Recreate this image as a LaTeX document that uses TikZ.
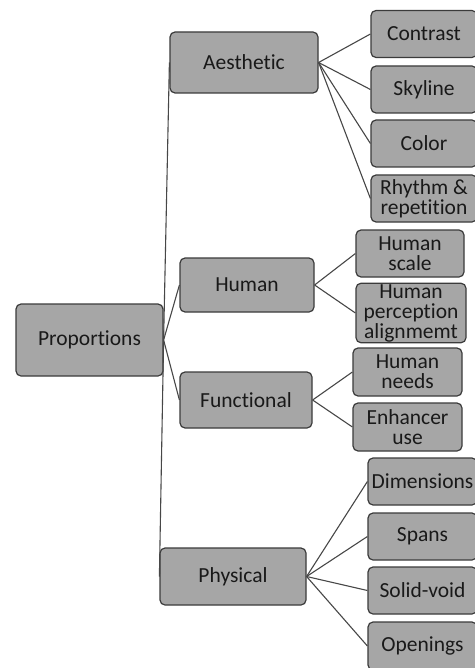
\documentclass[tikz,border=0pt]{standalone}
\usepackage{fontspec}
\setmainfont{Carlito}[Ligatures=NoCommon]
\begin{document}
\begin{tikzpicture}[x=1pt,y=-1pt,
	box/.style={draw=black!77,fill=black!35,text=black!90,line width=1.2pt,rounded corners=5pt,inner sep=1pt,align=center,font=\fontsize{21.5}{20}\selectfont},
	leaf/.style={box,minimum width=108pt,minimum height=47pt},
	link/.style={draw=black!72,line width=1.1pt}]
	\useasboundingbox (0,0) rectangle (474,668);
	% root and branches
	\node[box,minimum width=147pt,minimum height=72pt] (prop) at (89.5,340) {Proportions};
	\node[box,minimum width=148pt,minimum height=61pt] (aes) at (244,62.5) {Aesthetic};
	\node[box,minimum width=134pt,minimum height=54pt] (hum) at (247,285) {Human};
	\node[box,minimum width=132pt,minimum height=56pt] (fun) at (246,400) {Functional};
	\node[box,minimum width=146pt,minimum height=57pt] (phy) at (233,576.5) {Physical};
	% leaves
	\node[leaf,minimum width=106pt] (con) at (424,34) {Contrast};
	\node[leaf,minimum width=106pt] (sky) at (424,89.5) {Skyline};
	\node[leaf,minimum width=106pt] (col) at (424,143.5) {Color};
	\node[leaf,minimum width=106pt] (rhy) at (424,198.5) {Rhythm \&\\repetition};
	\node[leaf] (hsc) at (410,253.5) {Human\\scale};
	\node[leaf,minimum width=110pt,minimum height=58pt] (hpa) at (411,313) {Human\\perception\\alignmemt};
	\node[leaf,minimum width=109pt,minimum height=48pt] (hne) at (407.5,372) {Human\\needs};
	\node[leaf,minimum width=109pt,minimum height=48pt] (enh) at (407.5,427) {Enhancer\\use};
	\node[leaf,minimum width=109pt] (dim) at (422.5,481.5) {Dimensions};
	\node[leaf,minimum width=109pt] (spa) at (422.5,536.5) {Spans};
	\node[leaf,minimum width=109pt] (sol) at (422.5,590.5) {Solid-void};
	\node[leaf,minimum width=109pt,minimum height=48pt] (ope) at (422.5,646) {Openings};
	% connectors
	\foreach \b in {aes,hum,fun,phy} \draw[link] (prop.east) -- (\b.west);
	\foreach \l in {con,sky,col,rhy} \draw[link] (aes.east) -- (\l.west);
	\foreach \l in {hsc,hpa} \draw[link] (hum.east) -- (\l.west);
	\foreach \l in {hne,enh} \draw[link] (fun.east) -- (\l.west);
	\foreach \l in {dim,spa,sol,ope} \draw[link] (phy.east) -- (\l.west);
\end{tikzpicture}
\end{document}
